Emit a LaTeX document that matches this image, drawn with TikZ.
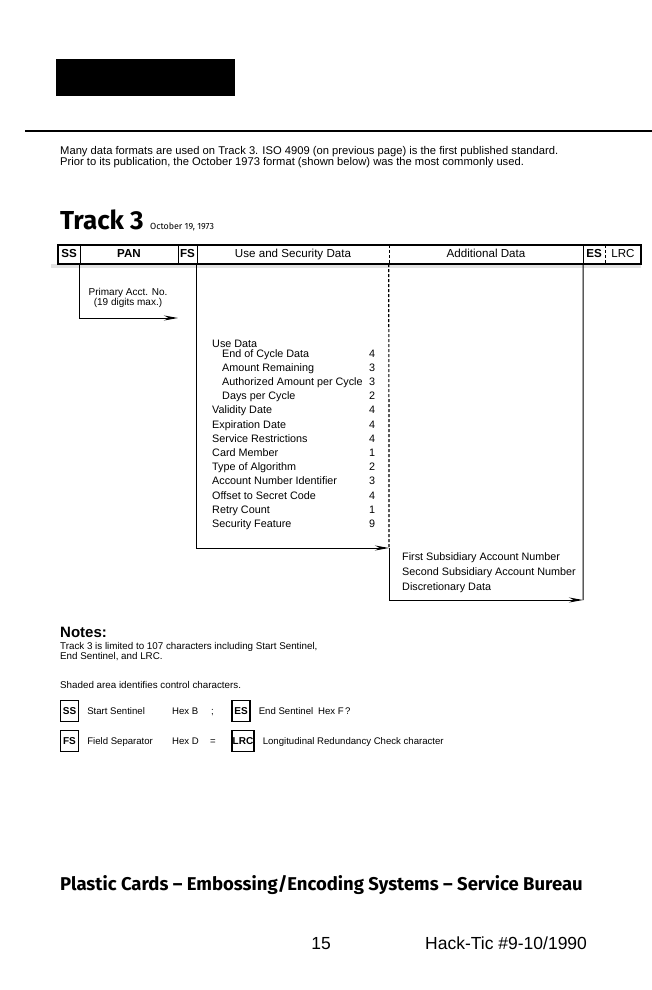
\documentclass[tikz,border=0pt]{standalone}
\usepackage{fontspec}
\setmainfont{Liberation Sans}
\newfontfamily\headfont{Fira Sans}
\usetikzlibrary{arrows.meta}
\begin{document}
\begin{tikzpicture}[x=1pt,y=-1pt,every node/.style={font=\fontsize{10.8}{12}\selectfont,inner sep=0pt},
  cell/.style={minimum height=19pt,text height=8.5pt,text depth=2.3pt,font=\fontsize{11.6}{12}\selectfont},
  keybox/.style={draw,line width=1.2pt,minimum height=21pt,font=\fontsize{10}{10}\selectfont\bfseries},
  keytext/.style={anchor=base west,font=\fontsize{9.6}{10}\selectfont},
  bracket/.style={line width=1pt},
  flow/.style={bracket,-{Stealth[length=14pt,width=5pt]}},
  sep/.style={line width=1.2pt,dash pattern=on 3pt off 2pt}]
\useasboundingbox (0,0) rectangle (652,990);
% page head, track 3 layout, notes and footer
\fill (56,59) rectangle (235,96);
\draw[line width=1.8pt] (25,131) -- (652,131);
\node[anchor=north west,align=left,font=\fontsize{11.2}{11}\selectfont] (intro) at (60,146) {Many data formats are used on Track 3. ISO 4909 (on previous page) is the first published standard.\\Prior to its publication, the October 1973 format (shown below) was the most commonly used.};
\node[anchor=base west,font=\headfont\bfseries\fontsize{26}{26}\selectfont] (title) at (60,229) {Track 3};
\node[anchor=base west,font=\headfont\fontsize{8.9}{9}\selectfont] (date) at ([xshift=6pt]title.base east) {October 19, 1973};
\begin{scope}
\node[cell,minimum width=22pt] (ss) at (69,254.5) {\bfseries SS};
\node[cell,minimum width=98pt] (pan) at (129,254.5) {\bfseries PAN};
\node[cell,minimum width=19pt] (fs) at (187.5,254.5) {\bfseries FS};
\node[cell,minimum width=192pt] (use) at (293,254.5) {Use and Security Data};
\node[cell,minimum width=194pt] (add) at (486,254.5) {Additional Data};
\node[cell,minimum width=22pt] (es) at (594,254.5) {\bfseries ES};
\node[cell,minimum width=36pt] (lrc) at (623,254.5) {LRC};
\fill[gray!22] ([xshift=-7pt]ss.south west) rectangle ([yshift=-4pt]lrc.south east);
\draw[line width=1.8pt] (ss.north west) rectangle (lrc.south east);
\foreach \c in {ss,pan,fs,add} {\draw[line width=1.4pt] (\c.north east) -- (\c.south east);}
\foreach \c in {use,es} {\draw[sep] (\c.north east) -- (\c.south east);}
\end{scope}
\coordinate (panend) at (178,318);
\coordinate (useend) at (389,548);
\coordinate (addend) at (583,600);
\draw[flow] (pan.south west) |- (panend);
\node[align=center,font=\fontsize{10}{10.5}\selectfont] (pannote) at (128,298) {Primary Acct. No.\\(19 digits max.)};
\draw[flow] (use.south west) |- (useend);
\draw[sep] (add.south west) -- (useend);
\draw[flow] (useend) |- (addend);
\draw[bracket] (add.south east) -- (addend);
\node[anchor=base west] (u0) at (212,347.5) {Use Data};
\foreach \x/\t/\n [count=\i] in {222/End of Cycle Data/4,222/Amount Remaining/3,222/Authorized Amount per Cycle/3,222/Days per Cycle/2,212/Validity Date/4,212/Expiration Date/4,212/Service Restrictions/4,212/Card Member/1,212/Type of Algorithm/2,212/Account Number Identifier/3,212/Offset to Secret Code/4,212/Retry Count/1,212/Security Feature/9} {
  \node[anchor=base west] (u\i) at (\x,{342.8+14.2*\i}) {\t};
  \node[anchor=base] (n\i) at (372,{342.8+14.2*\i}) {\n};}
\foreach \t [count=\i] in {First Subsidiary Account Number,Second Subsidiary Account Number,Discretionary Data} {\node[anchor=base west] (a\i) at (402,{545+15*\i}) {\t};}
\node[anchor=base west,font=\bfseries\fontsize{15}{15}\selectfont] (notes) at (60,637) {Notes:};
\node[anchor=north west,align=left,font=\fontsize{9.8}{10.5}\selectfont] (limit) at (60,642) {Track 3 is limited to 107 characters including Start Sentinel,\\End Sentinel, and LRC.};
\node[anchor=base west,font=\fontsize{9.8}{10.5}\selectfont] (shaded) at (60,688) {Shaded area identifies control characters.};
\foreach \k/\x/\y/\w/\t in {SS/69.5/711/18/Start Sentinel,ES/241/711/18/End Sentinel,FS/69.5/741/18/Field Separator,LRC/243/741/22/Longitudinal Redundancy Check character} {
  \node[keybox,minimum width=\w pt] (key\k) at (\x,\y) {\k};
  \node[keytext] (txt\k) at ([xshift=8pt,yshift=-3.5pt]key\k.east) {\t};}
\node[keytext] (hexSS) at (172,714.5) {Hex B};
\node[keytext] (chrSS) at (211,714.5) {;};
\node[keytext] (hexES) at (318,714.5) {Hex F};
\node[keytext] (chrES) at (345,714.5) {?};
\node[keytext] (hexFS) at (172,744.5) {Hex D};
\node[keytext] (chrFS) at (210,744.5) {=};
\node[anchor=base west,font=\headfont\bfseries\fontsize{18.5}{19}\selectfont] (footer) at (60,890) {Plastic Cards – Embossing/Encoding Systems – Service Bureau};
\node[anchor=base,font=\fontsize{17.5}{18}\selectfont] (page) at (321,949) {15};
\node[anchor=base west,font=\fontsize{17.5}{18}\selectfont] (mag) at (425,949) {Hack-Tic \#9-10/1990};
\end{tikzpicture}
\end{document}
